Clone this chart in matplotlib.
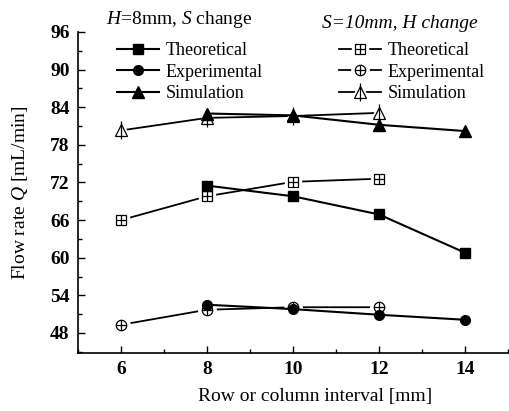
import matplotlib.pyplot as plt
from matplotlib.ticker import MultipleLocator

plt.rcParams['font.family'] = ['Liberation Serif', 'DejaVu Serif']
plt.rcParams['mathtext.fontset'] = 'custom'
plt.rcParams['mathtext.it'] = 'Liberation Serif:italic'
plt.rcParams['mathtext.rm'] = 'Liberation Serif'

# H = 8 mm, S changes (filled symbols)
s_interval = [8, 10, 12, 14]
s_theory = [71.5, 69.8, 66.9, 60.8]
s_exper = [52.5, 51.8, 50.9, 50.1]
s_simul = [83.0, 82.7, 81.2, 80.2]

# S = 10 mm, H changes (open symbols)
h_interval = [6, 8, 10, 12]
h_theory = [66.0, 69.8, 72.1, 72.6]
h_exper = [49.3, 51.7, 52.1, 52.1]
h_simul = [80.3, 82.3, 82.6, 83.1]

labels = ['Theoretical', 'Experimental', 'Simulation']

fig = plt.figure(figsize=(5.09, 4.11), dpi=100)
ax = fig.add_axes([78 / 509, 1 - 353 / 411, 1 - 78 / 509 - 0.002, (353 - 32) / 411])

# open series first, with a small white gap around each symbol
open_handles = []
for y, mk, inner, ms, ims in [(h_theory, 's', '+', 7, 7),
                              (h_exper, 'o', '+', 7.5, 7.5),
                              (h_simul, '^', '|', 9, 13)]:
    ln, = ax.plot(h_interval, y, color='black', lw=1.3, zorder=2)
    halo, = ax.plot(h_interval, y, ls='none', marker=mk, ms=ms + 5,
                    mfc='white', mec='white', zorder=2.1)
    mko, = ax.plot(h_interval, y, ls='none', marker=mk, ms=ms,
                   mfc='white', mec='black', mew=0.9, zorder=2.2)
    mki, = ax.plot(h_interval, y, ls='none', marker=inner, ms=ims,
                   mec='black', mew=0.9, zorder=2.3)
    open_handles.append((ln, halo, mko, mki))

filled_handles = []
for y, mk, ms in [(s_theory, 's', 7), (s_exper, 'o', 7), (s_simul, '^', 9)]:
    h, = ax.plot(s_interval, y, color='black', lw=1.5, marker=mk, ms=ms,
                 mfc='black', mec='black', zorder=3)
    filled_handles.append(h)

ax.set_xlim(5, 15)
ax.set_ylim(44.8, 96)
ax.xaxis.set_major_locator(MultipleLocator(2))
ax.xaxis.set_minor_locator(MultipleLocator(1))
ax.yaxis.set_major_locator(MultipleLocator(6))
ax.yaxis.set_minor_locator(MultipleLocator(3))
ax.tick_params(which='both', direction='in', width=1)
ax.tick_params(which='major', length=5, labelsize=14, pad=6)
ax.tick_params(which='minor', length=3)
for lab in ax.get_xticklabels() + ax.get_yticklabels():
    lab.set_fontweight('bold')
ax.spines['top'].set_visible(False)
ax.spines['right'].set_visible(False)
ax.spines['left'].set_linewidth(1.2)
ax.spines['bottom'].set_linewidth(1.2)

ax.set_xlabel('Row or column interval [mm]', fontsize=14)
ax.xaxis.set_label_coords((316 - 78) / 431, -0.11)
ax.set_ylabel('Flow rate $Q$ [mL/min]', fontsize=14)
ax.yaxis.set_label_coords(-(78 - 30) / 431, 0.5)

fig.text(106 / 509, 1 - 20 / 411, '$H$=8mm, $S$ change', fontsize=14,
         va='center', ha='left')
fig.text(322 / 509, 1 - 23 / 411, 'S=10mm, H change', fontsize=14,
         style='italic', va='center', ha='left')

leg1 = fig.legend(filled_handles, labels, loc='upper left',
                  bbox_to_anchor=(117 / 509, 1 - 42 / 411), frameon=False,
                  fontsize=13, handlelength=2.3, handletextpad=0.4,
                  labelspacing=0.25, borderpad=0, borderaxespad=0)
leg2 = fig.legend(open_handles, labels, loc='upper left',
                  bbox_to_anchor=(339 / 509, 1 - 42 / 411), frameon=False,
                  fontsize=13, handlelength=2.3, handletextpad=0.4,
                  labelspacing=0.25, borderpad=0, borderaxespad=0)

fig.savefig('out.png', dpi=100)
